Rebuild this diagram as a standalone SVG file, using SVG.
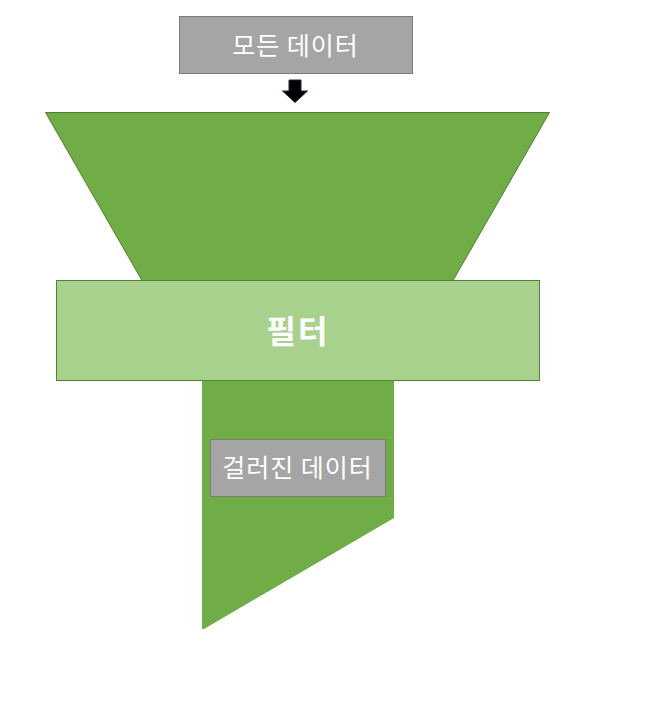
<svg xmlns="http://www.w3.org/2000/svg" width="657" height="701" viewBox="0 0 657 701">
<style>
.box{fill:#a5a5a5;stroke:#7b7b7b;stroke-width:1}
.lbl{font-family:"Noto Sans CJK KR","Noto Sans",sans-serif;fill:#ffffff;text-anchor:middle;dominant-baseline:central}
.green{fill:#70ad47;stroke:#507e32;stroke-width:1}
</style>
<rect width="657" height="701" fill="#ffffff"/>
<g id="funnel-top"><polygon class="green" points="45.5,112.5 549.5,112.5 453,280.5 142,280.5"/></g>
<g id="funnel-bottom"><polygon fill="#70ad47" points="202,381 394,381 394,518 204,629 202,629"/></g>
<g id="filter">
<rect x="56.5" y="280.5" width="483" height="100" fill="#a9d18e" stroke="#548235" stroke-width="1"/>
<text class="lbl" x="298" y="329" font-size="32" font-weight="bold" letter-spacing="2">필터</text>
</g>
<g id="all-data">
<rect class="box" x="179.5" y="16.5" width="233" height="57"/>
<text class="lbl" x="295.5" y="44" font-size="25" letter-spacing="1">모든 데이터</text>
</g>
<g id="filtered-data">
<rect class="box" x="210.5" y="439.5" width="175" height="57"/>
<text class="lbl" x="297.5" y="466" font-size="25" letter-spacing="1">걸러진 데이터</text>
</g>
<g id="connectors">
<polygon points="289,80 301,80 301,91 307.5,91 295,102.5 282.5,91 289,91" fill="#000000" stroke="#1f2a44" stroke-width="1"/>
</g>
</svg>
